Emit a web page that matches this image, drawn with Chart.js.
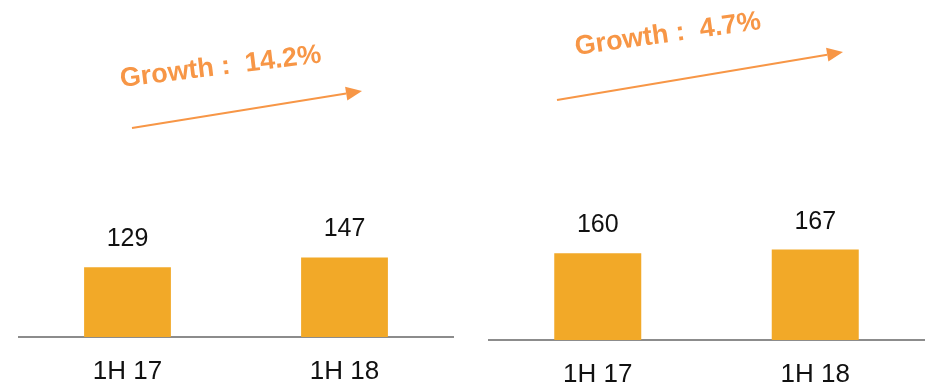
<!DOCTYPE html>
<html>
<head>
<meta charset="utf-8">
<script src="https://cdn.jsdelivr.net/npm/chart.js@4.4.1/dist/chart.umd.min.js"></script>
<style>
  html, body { margin: 0; padding: 0; background: #fff; }
  .wrap { position: absolute; top: 0; width: 465px; height: 386px; }
</style>
</head>
<body>
<div class="wrap" style="left:0"><canvas id="left"></canvas></div>
<div class="wrap" style="left:465px"><canvas id="right"></canvas></div>
<script>
const LABELS = ['1H 17', '1H 18'];
const LEFT_VALUES = [129, 147];
const RIGHT_VALUES = [160, 167];
const LEFT_GROWTH = 'Growth :  14.2%';
const RIGHT_GROWTH = 'Growth :  4.7%';

const BAR = '#F2A928';
const ORANGE = '#F79646';
const AXIS = '#8c8c8c';
const FONT = 'Arial, "Liberation Sans", sans-serif';

// value labels above bars
const valueLabels = {
  id: 'valueLabels',
  afterDatasetsDraw(chart) {
    const ctx = chart.ctx;
    const meta = chart.getDatasetMeta(0);
    ctx.save();
    ctx.fillStyle = '#111';
    ctx.font = '25px ' + FONT;
    ctx.textAlign = 'center';
    ctx.textBaseline = 'alphabetic';
    meta.data.forEach((bar, i) => {
      ctx.fillText(chart.data.datasets[0].data[i], bar.x, bar.y - 21);
    });
    ctx.restore();
  }
};

// rotated "Growth" text and arrow
const growthNote = {
  id: 'growthNote',
  afterDraw(chart, args, opts) {
    const ctx = chart.ctx;
    ctx.save();
    ctx.fillStyle = ORANGE;
    ctx.font = 'bold 27px ' + FONT;
    ctx.translate(opts.tx, opts.ty);
    ctx.rotate(opts.tAngle * Math.PI / 180);
    ctx.textAlign = 'left';
    ctx.textBaseline = 'alphabetic';
    ctx.fillText(opts.text, 0, 0);
    ctx.restore();

    const [x1, y1, x2, y2] = opts.arrow;
    const ang = Math.atan2(y2 - y1, x2 - x1);
    const hl = 16, hw = 7;
    const bx = x2 - hl * Math.cos(ang), by = y2 - hl * Math.sin(ang);
    ctx.save();
    ctx.strokeStyle = ORANGE;
    ctx.fillStyle = ORANGE;
    ctx.lineWidth = 2;
    ctx.beginPath();
    ctx.moveTo(x1, y1);
    ctx.lineTo(bx, by);
    ctx.stroke();
    ctx.beginPath();
    ctx.moveTo(x2, y2);
    ctx.lineTo(bx + hw * Math.sin(ang), by - hw * Math.cos(ang));
    ctx.lineTo(bx - hw * Math.sin(ang), by + hw * Math.cos(ang));
    ctx.closePath();
    ctx.fill();
    ctx.restore();
  }
};

function makeChart(id, values, pad, axisH, note) {
  return new Chart(document.getElementById(id), {
    type: 'bar',
    data: {
      labels: LABELS,
      datasets: [{
        data: values,
        backgroundColor: BAR,
        categoryPercentage: 1,
        barPercentage: 0.4
      }]
    },
    options: {
      responsive: true, maintainAspectRatio: false, animation: false,
      layout: { padding: pad },
      plugins: { legend: { display: false }, tooltip: { enabled: false }, growthNote: note },
      scales: {
        x: {
          grid: { display: false, drawTicks: false },
          border: { display: true, color: AXIS, width: 2 },
          ticks: { color: '#111', font: { size: 26, family: FONT }, padding: 19 },
          afterFit: s => { s.height = axisH; }
        },
        y: { display: false, min: 0, max: 600 }
      }
    },
    plugins: [valueLabels, growthNote]
  });
}

makeChart('left', LEFT_VALUES, { top: 12, left: 19, right: 12, bottom: 0 }, 49,
  { text: LEFT_GROWTH, tx: 121, ty: 87, tAngle: -7, arrow: [132, 128, 362, 91] });
makeChart('right', RIGHT_VALUES, { top: 15, left: 24, right: 6, bottom: 0 }, 46,
  { text: RIGHT_GROWTH, tx: 111, ty: 55, tAngle: -8, arrow: [92, 100, 378, 52] });
</script>
</body>
</html>
